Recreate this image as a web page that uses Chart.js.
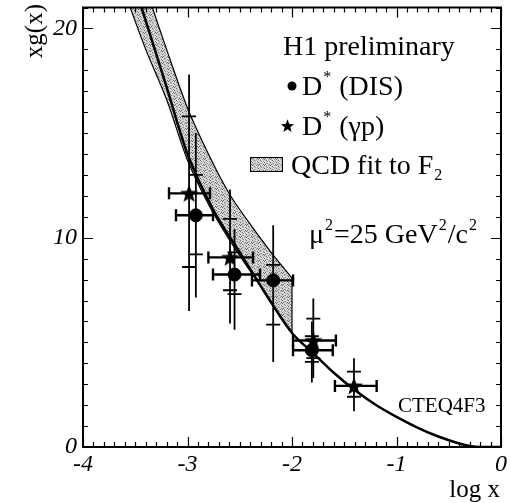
<!DOCTYPE html>
<html>
<head>
<meta charset="utf-8">
<script src="https://cdn.jsdelivr.net/npm/chart.js@4.4.0/dist/chart.umd.min.js"></script>
<style>
  html, body { margin: 0; padding: 0; background: #fff; }
  #wrap { width: 511px; height: 503px; }
</style>
</head>
<body>
<div id="wrap"><canvas id="gluon"></canvas></div>
<script>
// axis ticks
var xTicks = [-4, -3, -2, -1, 0];
var yTicks = [0, 10, 20];

// D* (DIS) points
var disX     = [-2.92, -2.55, -2.18, -1.81];
var disY     = [11.07, 8.24, 7.96, 4.62];
var disXLo   = [-3.11, -2.756, -2.383, -1.99];
var disXHi   = [-2.756, -2.306, -1.99, -1.61];
var disStatLo = [9.2, 7.3, 5.85, 4.07];
var disStatHi = [13.0, 9.3, 8.7, 5.3];
var disTotLo  = [7.14, 5.6, 4.06, 3.08];
var disTotHi  = [15.0, 10.4, 10.6, 6.0];

// D* (gamma p) points
var gpX     = [-2.985, -2.593, -1.796, -1.407];
var gpY     = [12.12, 9.06, 5.09, 2.92];
var gpXLo   = [-3.177, -2.80, -1.99, -1.589];
var gpXHi   = [-2.785, -2.373, -1.58, -1.19];
var gpStatLo = [8.6, 7.49, 4.25, 2.4];
var gpStatHi = [15.8, 10.9, 6.13, 3.6];
var gpTotLo  = [6.5, 5.9, 3.3, 1.71];
var gpTotHi  = [17.8, 12.3, 7.09, 4.24];

// QCD fit band
var bandX  = [-3.6, -3.4, -3.2, -3.0, -2.8, -2.6, -2.4, -2.2, -2.0];
var bandLo = [21.7, 19.0, 16.6, 13.7, 11.6, 9.9, 8.4, 6.95, 5.45];
var bandHi = [25.5, 22.0, 19.0, 16.2, 14.0, 12.1, 10.65, 9.3, 8.07];

// CTEQ4F3 curve
var cteqX = [-3.44, -3.2, -3.0, -2.75, -2.5, -2.25, -2.0, -1.8, -1.6, -1.4, -1.2, -1.0, -0.8, -0.6, -0.4, -0.3, -0.2, 0.0];
var cteqY = [21.0, 17.2, 14.0, 11.3, 9.3, 7.3, 5.45, 4.5, 3.55, 2.72, 2.02, 1.44, 0.93, 0.5, 0.17, 0.05, 0.0, 0.0];

var serif = '"Liberation Serif", "DejaVu Serif", serif';
var LEG = 28;   // legend text size
var SUP = 16;   // super/subscript size

function pts(xs, ys) {
    var out = [];
    for (var i = 0; i < xs.length; i++) out.push({x: xs[i], y: ys[i]});
    return out;
}

function makeStar(size) {
    var c = document.createElement('canvas');
    c.width = size; c.height = size;
    var g = c.getContext('2d');
    var R = size / 2 - 0.5, r = R * 0.42, cx = size / 2, cy = size / 2 + 0.8;
    g.beginPath();
    for (var k = 0; k < 10; k++) {
        var a = -Math.PI / 2 + k * Math.PI / 5;
        var rr = (k % 2 === 0) ? R : r;
        g.lineTo(cx + rr * Math.cos(a), cy + rr * Math.sin(a));
    }
    g.closePath();
    g.fillStyle = '#000';
    g.fill();
    return c;
}

// grainy grey fill for the fit band
function makeStipple() {
    var dots = [[0,0],[3,1],[1,2],[4,3],[2,4],[5,5],[0,3],[3,5],[5,2],[2,1]];
    var c = document.createElement('canvas');
    c.width = 6; c.height = 6;
    var g = c.getContext('2d');
    g.fillStyle = '#d4d4d4';
    g.fillRect(0, 0, 6, 6);
    for (var i = 0; i < dots.length; i++) {
        g.fillStyle = (i % 2 === 0) ? '#6a6a6a' : '#9c9c9c';
        g.fillRect(dots[i][0], dots[i][1], 1, 1);
    }
    return c;
}

var starImg = makeStar(20);
var starSmall = makeStar(15);
var stipple = document.getElementById('gluon').getContext('2d').createPattern(makeStipple(), 'repeat');

// draws a run of [text, script] pieces from x on baseline y
function richText(ctx, parts, x, y) {
    for (var i = 0; i < parts.length; i++) {
        var p = parts[i];
        if (p[1] === 'sup') {
            ctx.font = SUP + 'px ' + serif;
            ctx.fillText(p[0], x + 1, y - 13);
            x += ctx.measureText(p[0]).width + 2;
        } else if (p[1] === 'sub') {
            ctx.font = SUP + 'px ' + serif;
            ctx.fillText(p[0], x + 1, y + 6);
            x += ctx.measureText(p[0]).width + 2;
        } else {
            ctx.font = LEG + 'px ' + serif;
            ctx.fillText(p[0], x, y);
            x += ctx.measureText(p[0]).width;
        }
    }
}

function drawErrors(ctx, xs, sx, sy, ys, xLo, xHi, sLo, sHi, tLo, tHi) {
    for (var i = 0; i < xs.length; i++) {
        var px = sx.getPixelForValue(xs[i]);
        var py = sy.getPixelForValue(ys[i]);
        var xl = sx.getPixelForValue(xLo[i]), xh = sx.getPixelForValue(xHi[i]);
        var tl = sy.getPixelForValue(tLo[i]), th = sy.getPixelForValue(tHi[i]);
        var sl = sy.getPixelForValue(sLo[i]), sh = sy.getPixelForValue(sHi[i]);
        // x range with end caps
        ctx.lineWidth = 2.4;
        ctx.beginPath();
        ctx.moveTo(xl, py); ctx.lineTo(xh, py);
        ctx.moveTo(xl, py - 6); ctx.lineTo(xl, py + 6);
        ctx.moveTo(xh, py - 6); ctx.lineTo(xh, py + 6);
        ctx.stroke();
        // total error
        ctx.lineWidth = 1.8;
        ctx.beginPath();
        ctx.moveTo(px, th); ctx.lineTo(px, tl);
        // stat error marks
        ctx.moveTo(px - 7, sh); ctx.lineTo(px + 7, sh);
        ctx.moveTo(px - 7, sl); ctx.lineTo(px + 7, sl);
        ctx.stroke();
    }
}

var decorations = {
    id: 'decorations',
    afterDatasetsDraw: function(chart) {
        var ctx = chart.ctx, a = chart.chartArea;
        var sx = chart.scales.x, sy = chart.scales.y;
        ctx.save();
        ctx.beginPath();
        ctx.rect(a.left, a.top, a.right - a.left, a.bottom - a.top);
        ctx.clip();
        ctx.strokeStyle = '#000';
        ctx.lineWidth = 1.2;
        // closing edge of the band
        var n = bandX.length - 1;
        ctx.beginPath();
        ctx.moveTo(sx.getPixelForValue(bandX[n]), sy.getPixelForValue(bandLo[n]));
        ctx.lineTo(sx.getPixelForValue(bandX[n]), sy.getPixelForValue(bandHi[n]));
        ctx.stroke();
        drawErrors(ctx, disX, sx, sy, disY, disXLo, disXHi, disStatLo, disStatHi, disTotLo, disTotHi);
        drawErrors(ctx, gpX, sx, sy, gpY, gpXLo, gpXHi, gpStatLo, gpStatHi, gpTotLo, gpTotHi);
        ctx.restore();
    },
    afterDraw: function(chart) {
        var ctx = chart.ctx, a = chart.chartArea;
        var sx = chart.scales.x, sy = chart.scales.y;
        ctx.save();
        ctx.strokeStyle = '#000';
        // frame
        ctx.lineWidth = 2;
        ctx.strokeRect(a.left, a.top, a.right - a.left, a.bottom - a.top);
        // inward ticks on all four sides
        ctx.lineWidth = 1.2;
        ctx.beginPath();
        for (var k = 0; k <= 40; k++) {
            var v = -4 + k * 0.1;
            var len = (k % 10 === 0) ? 10 : 5;
            var px = Math.round(sx.getPixelForValue(v)) + 0.5;
            ctx.moveTo(px, a.bottom); ctx.lineTo(px, a.bottom - len);
            ctx.moveTo(px, a.top); ctx.lineTo(px, a.top + len);
        }
        for (var j = 0; j <= 21; j++) {
            var lenY = (j % 10 === 0) ? 10 : 5;
            var py = Math.round(sy.getPixelForValue(j)) + 0.5;
            ctx.moveTo(a.left, py); ctx.lineTo(a.left + lenY, py);
            ctx.moveTo(a.right, py); ctx.lineTo(a.right - lenY, py);
        }
        ctx.stroke();

        // axis titles
        ctx.fillStyle = '#000';
        ctx.font = '25px ' + serif;
        ctx.textAlign = 'right';
        ctx.textBaseline = 'alphabetic';
        ctx.fillText('log x', 500, 497);
        ctx.save();
        ctx.translate(42, 4);
        ctx.rotate(-Math.PI / 2);
        ctx.textAlign = 'right';
        ctx.fillText('xg(x)', 0, 0);
        ctx.restore();

        // legend block
        ctx.textAlign = 'left';
        richText(ctx, [['H1 preliminary']], 283, 55);

        ctx.beginPath();
        ctx.arc(292, 86, 4.5, 0, Math.PI * 2);
        ctx.fill();
        richText(ctx, [['D'], ['*', 'sup'], [' (DIS)']], 302, 95);

        ctx.drawImage(starSmall, 280, 118);
        richText(ctx, [['D'], ['*', 'sup'], [' (\u03b3p)']], 302, 135);

        ctx.fillStyle = stipple;
        ctx.fillRect(250, 157, 32, 14);
        ctx.lineWidth = 1;
        ctx.strokeRect(250.5, 157.5, 32, 14);
        ctx.fillStyle = '#000';
        richText(ctx, [['QCD fit to F'], ['2', 'sub']], 291, 174);

        richText(ctx, [['\u03bc'], ['2', 'sup'], ['=25 GeV'], ['2', 'sup'], ['/c'], ['2', 'sup']], 309, 243);

        ctx.font = '21px ' + serif;
        ctx.fillText('CTEQ4F3', 398, 412);
        ctx.restore();
    }
};

var ctx = document.getElementById('gluon').getContext('2d');
var chart = new Chart(ctx, {
    type: 'scatter',
    data: {
        datasets: [{
            label: 'D* (DIS)',
            data: pts(disX, disY),
            pointStyle: 'circle',
            pointRadius: 6.5,
            backgroundColor: '#000',
            borderColor: '#000',
            order: 0
        }, {
            label: 'D* (gp)',
            data: pts(gpX, gpY),
            pointStyle: starImg,
            order: 0
        }, {
            label: 'CTEQ4F3',
            type: 'line',
            data: pts(cteqX, cteqY),
            borderColor: '#000',
            borderWidth: 2.5,
            pointRadius: 0,
            cubicInterpolationMode: 'monotone',
            fill: false,
            order: 1
        }, {
            label: 'band low',
            type: 'line',
            data: pts(bandX, bandLo),
            borderColor: '#000',
            borderWidth: 1.2,
            pointRadius: 0,
            cubicInterpolationMode: 'monotone',
            fill: false,
            order: 2
        }, {
            label: 'QCD fit to F2',
            type: 'line',
            data: pts(bandX, bandHi),
            borderColor: '#000',
            borderWidth: 1.2,
            pointRadius: 0,
            cubicInterpolationMode: 'monotone',
            backgroundColor: stipple,
            fill: '-1',
            order: 3
        }]
    },
    options: {
        responsive: true,
        maintainAspectRatio: false,
        animation: false,
        layout: { padding: { left: 0, top: 4, right: 10, bottom: 0 } },
        plugins: {
            legend: { display: false },
            tooltip: { enabled: false }
        },
        scales: {
            x: {
                type: 'linear',
                min: -4,
                max: 0,
                afterBuildTicks: function(scale) {
                    scale.ticks = xTicks.map(function(v) { return {value: v}; });
                },
                afterFit: function(scale) {
                    scale.height = 56;
                    scale.paddingLeft = 0;
                    scale.paddingRight = 0;
                },
                grid: { display: false, drawTicks: false },
                border: { display: false },
                ticks: {
                    padding: 3,
                    color: '#000',
                    maxRotation: 0,
                    font: { family: serif, size: 24, style: 'italic' }
                }
            },
            y: {
                type: 'linear',
                min: 0,
                max: 21,
                afterBuildTicks: function(scale) {
                    scale.ticks = yTicks.map(function(v) { return {value: v}; });
                },
                afterFit: function(scale) {
                    scale.width = 83;
                    scale.paddingTop = 0;
                    scale.paddingBottom = 0;
                },
                grid: { display: false, drawTicks: false },
                border: { display: false },
                ticks: {
                    padding: 6,
                    color: '#000',
                    font: { family: serif, size: 24, style: 'italic' }
                }
            }
        }
    },
    plugins: [decorations]
});
</script>
</body>
</html>
